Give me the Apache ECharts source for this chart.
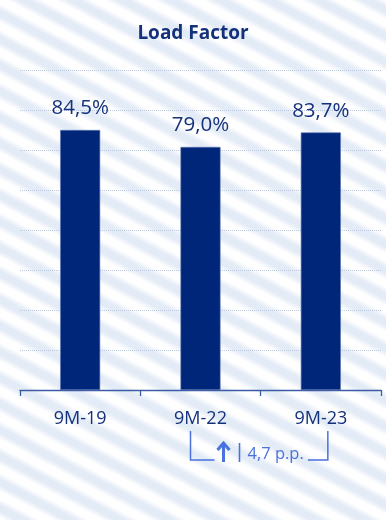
<!DOCTYPE html>
<html>
<head>
<meta charset="utf-8">
<script src="https://cdn.jsdelivr.net/npm/echarts@6/dist/echarts.min.js"></script>
<style>
  html, body { margin: 0; padding: 0; }
  body {
    width: 386px; height: 520px; overflow: hidden;
    background: repeating-linear-gradient(28deg,
      #ffffff 0px, #ffffff 2px, #e3ebf6 8px, #e3ebf6 13px, #ffffff 19px, #ffffff 23px);
  }
  #chart { width: 386px; height: 520px; }
</style>
</head>
<body>
<div id="chart"></div>
<script>
// Load factor by period (percent)
const categories = ['9M-19', '9M-22', '9M-23'];
const loadFactor = [84.5, 79.0, 83.7];
const changeLabel = '4,7 p.p.';

const navy = '#00267a';
const textNavy = '#14317c';
const accent = '#4a72dd';

const fmt = v => v.toFixed(1).replace('.', ',') + '%';

const chart = echarts.init(document.getElementById('chart'), null, { renderer: 'canvas' });

chart.setOption({
  backgroundColor: 'transparent',
  animation: false,
  title: {
    text: 'Load Factor',
    left: 'center',
    top: 19,
    textStyle: { fontFamily: 'Open Sans', fontWeight: 'bold', fontSize: 19, color: textNavy }
  },
  grid: { left: 20, right: 5, top: 70, bottom: 130 },
  xAxis: {
    type: 'category',
    data: categories,
    axisLine: { lineStyle: { color: '#3d5ca6', width: 1.3 } },
    axisTick: { show: true, length: 6, lineStyle: { color: '#3d5ca6', width: 1.3 } },
    axisLabel: { margin: 20, fontFamily: 'Open Sans', fontSize: 18, color: textNavy }
  },
  yAxis: {
    type: 'value',
    min: 0, max: 104, interval: 13,
    axisLabel: { show: false },
    axisLine: { show: false },
    axisTick: { show: false },
    splitLine: { lineStyle: { color: '#bcc7e0', type: [1, 1], width: 1 } }
  },
  series: [{
    type: 'bar',
    data: loadFactor,
    barWidth: 40,
    itemStyle: { color: navy, borderColor: '#5a74b5', borderWidth: 0.6 },
    label: {
      show: true, position: 'top', distance: 11,
      formatter: p => fmt(p.value),
      fontFamily: 'Open Sans', fontSize: 20.5, color: textNavy
    }
  }]
});

// Change bracket between the last two periods, placed under their category labels
function drawBracket() {
  const x1 = chart.convertToPixel({ xAxisIndex: 0 }, categories[1]);
  const x2 = chart.convertToPixel({ xAxisIndex: 0 }, categories[2]);
  const base = chart.convertToPixel({ yAxisIndex: 0 }, 0);
  const top = base + 41, bot = base + 70;
  const left = x1 - 10, right = x2 + 7;
  const arrowX = left + 33;
  const line = { stroke: accent, lineWidth: 1.5 };
  chart.setOption({
    graphic: [
      { type: 'polyline', shape: { points: [[left, top], [left, bot], [left + 24, bot]] }, style: line, silent: true },
      { type: 'polyline', shape: { points: [[right - 20, bot], [right, bot], [right, top]] }, style: line, silent: true },
      { type: 'line', shape: { x1: arrowX, y1: bot + 2, x2: arrowX, y2: bot - 16 }, style: { stroke: accent, lineWidth: 3 }, silent: true },
      { type: 'polyline', shape: { points: [[arrowX - 6, bot - 10], [arrowX, bot - 17], [arrowX + 6, bot - 10]] }, style: { stroke: accent, lineWidth: 3, fill: null }, silent: true },
      { type: 'line', shape: { x1: arrowX + 16, y1: bot + 2, x2: arrowX + 16, y2: bot - 17 }, style: { stroke: accent, lineWidth: 1.6 }, silent: true },
      { type: 'text', x: arrowX + 24, y: bot - 6, style: { text: changeLabel, fill: accent, font: '16.5px "Open Sans"', textVerticalAlign: 'middle' }, silent: true }
    ]
  });
}
drawBracket();
</script>
</body>
</html>
